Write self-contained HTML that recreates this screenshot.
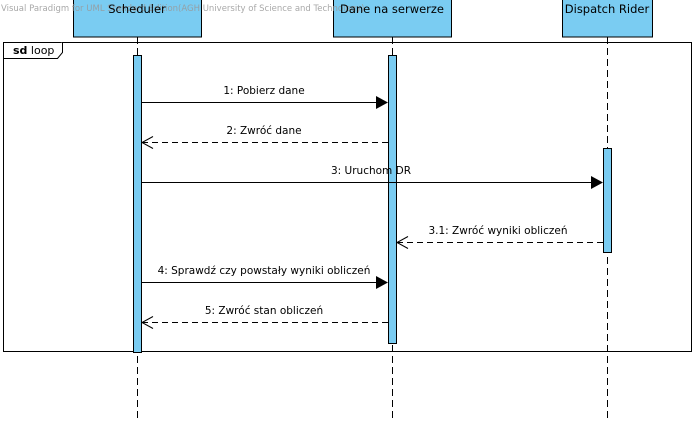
<!DOCTYPE html>
<html><head><meta charset="utf-8"><style>
html,body{margin:0;padding:0;background:#fff;}
svg{display:block;}
text{font-family:"DejaVu Sans","Liberation Sans",sans-serif;}
</style></head><body>
<svg width="696" height="426" viewBox="0 0 696 426" xmlns="http://www.w3.org/2000/svg">
<!-- lifelines -->
<g stroke="#000" stroke-width="1" stroke-dasharray="7,4">
<line x1="137.5" y1="37" x2="137.5" y2="422"/>
<line x1="392.5" y1="37" x2="392.5" y2="422"/>
<line x1="607.5" y1="37" x2="607.5" y2="422"/>
</g>
<!-- heads -->
<g fill="#7accf2" stroke="#000" stroke-width="1">
<rect x="73.5" y="-1" width="128" height="38"/>
<rect x="333.5" y="-1" width="118" height="38"/>
<rect x="562.5" y="-1" width="90" height="38"/>
</g>
<text x="1" y="11" font-size="8.5" fill="#999" opacity="0.85">Visual Paradigm for UML Standard Edition(AGH University of Science and Technology)</text>
<g font-size="11.5" fill="#000" text-anchor="middle">
<text x="137" y="13">Scheduler</text>
<text x="392" y="13">Dane na serwerze</text>
<text x="607" y="13">Dispatch Rider</text>
</g>
<!-- frame -->
<rect x="3.5" y="42.5" width="688" height="309" fill="none" stroke="#000"/>
<path d="M3.5 58.5 H57.5 L62.5 52.5 V42.5" fill="#fff" stroke="#000"/>
<text x="13" y="54" font-size="11"><tspan font-weight="bold">sd</tspan> loop</text>
<!-- activations -->
<g fill="#7accf2" stroke="#000">
<rect x="133.5" y="55.5" width="8" height="297"/>
<rect x="388.5" y="55.5" width="8" height="288"/>
<rect x="603.5" y="148.5" width="8" height="104"/>
</g>
<!-- messages -->
<g stroke="#000" fill="none">
<line x1="141" y1="102.5" x2="376" y2="102.5"/>
<line x1="141" y1="182.5" x2="591" y2="182.5"/>
<line x1="141" y1="282.5" x2="376" y2="282.5"/>
<g stroke-dasharray="6,4">
<line x1="388" y1="142.5" x2="142" y2="142.5"/>
<line x1="603" y1="242.5" x2="397" y2="242.5"/>
<line x1="388" y1="322.5" x2="142" y2="322.5"/>
</g>
<path d="M153 136.5 L142 142.5 L153 148.5"/>
<path d="M408 236.5 L397 242.5 L408 248.5"/>
<path d="M153 316.5 L142 322.5 L153 328.5"/>
</g>
<g fill="#000">
<path d="M376 96 L388 102.5 L376 109Z"/>
<path d="M591 176 L603 182.5 L591 189Z"/>
<path d="M376 276 L388 282.5 L376 289Z"/>
</g>
<g font-size="10.5" fill="#000" text-anchor="middle">
<text x="264" y="94">1: Pobierz dane</text>
<text x="264" y="134">2: Zwróć dane</text>
<text x="371" y="174">3: Uruchom DR</text>
<text x="498" y="234">3.1: Zwróć wyniki obliczeń</text>
<text x="264" y="274">4: Sprawdź czy powstały wyniki obliczeń</text>
<text x="264" y="314">5: Zwróć stan obliczeń</text>
</g>
</svg>
</body></html>
